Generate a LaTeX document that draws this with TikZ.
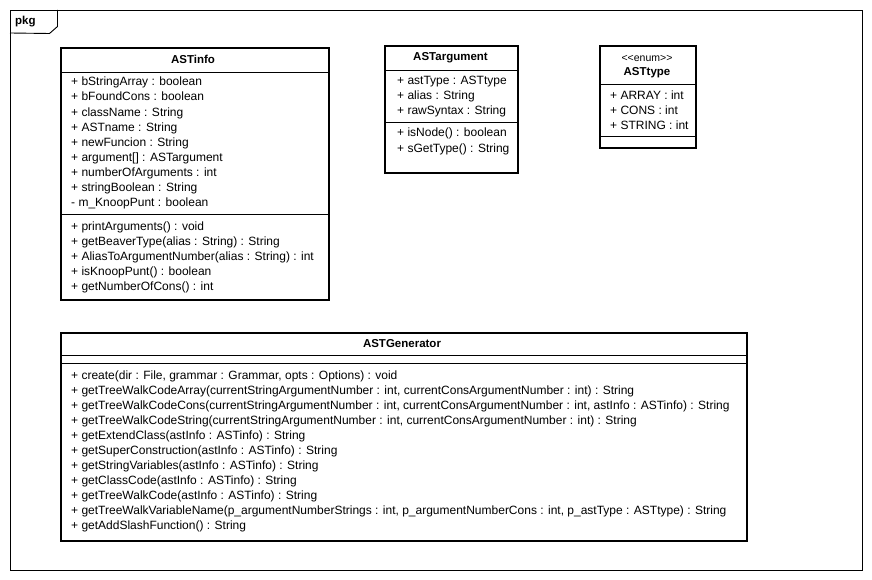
\documentclass[tikz,border=0pt]{standalone}
\usepackage{fontspec}
\setmainfont{Liberation Sans}
\begin{document}
\begin{tikzpicture}[x=1pt,y=-1pt,
  box/.style={draw,line width=2pt,anchor=north west,inner sep=0pt},
  sep/.style={line width=0.9pt},
  txt/.style={anchor=west,inner sep=0pt,font=\fontsize{12}{14}\selectfont,text height=8.5pt,text depth=2.5pt},
  ttl/.style={anchor=center,inner sep=0pt,font=\fontsize{11.5}{13}\selectfont\bfseries},
  ster/.style={anchor=center,inner sep=0pt,font=\fontsize{10.5}{12}\selectfont}]
\useasboundingbox (0,0) rectangle (872,580);
\fill[white] (0,0) rectangle (872,580);
% package frame
\node[draw,line width=0.9pt,anchor=north west,inner sep=0pt,minimum width=852pt,minimum height=560pt] (frame) at (10,10) {};
\draw[line width=0.9pt] (frame.north west) ++(47.5,0) -- ++(0,16.5) -- ++(-8,7) -- (frame.west |- 0,33);
\node[anchor=west,inner sep=0pt,font=\fontsize{11.5}{13}\selectfont\bfseries] (pkg) at (15,22) {pkg};

% ASTinfo
\node[box,minimum width=268pt,minimum height=252pt] (info) at (60,47) {};
\draw[sep] (info.west |- 0,72) -- (info.east |- 0,72);
\draw[sep] (info.west |- 0,214) -- (info.east |- 0,214);
\node[ttl] (infoT) at (193,59.5) {ASTinfo};
\node[txt] (i1) at (71,83) {+ bStringArray : boolean};
\node[txt] (i2) at (71,98) {+ bFoundCons : boolean};
\node[txt] (i3) at (71,113.2) {+ className : String};
\node[txt] (i4) at (71,128.4) {+ ASTname : String};
\node[txt] (i5) at (71,143.6) {+ newFuncion : String};
\node[txt] (i6) at (71,158.8) {+ argument[] : ASTargument};
\node[txt] (i7) at (71,174) {+ numberOfArguments : int};
\node[txt] (i8) at (71,189) {+ stringBoolean : String};
\node[txt] (i9) at (71,204) {- m\_KnoopPunt : boolean};
\node[txt] (m1) at (71,227) {+ printArguments() : void};
\node[txt] (m2) at (71,242) {+ getBeaverType(alias : String) : String};
\node[txt] (m3) at (71,257) {+ AliasToArgumentNumber(alias : String) : int};
\node[txt] (m4) at (71,272) {+ isKnoopPunt() : boolean};
\node[txt] (m5) at (71,287) {+ getNumberOfCons() : int};

% ASTargument
\node[box,minimum width=133pt,minimum height=127pt] (arg) at (384,45) {};
\draw[sep] (arg.west |- 0,70) -- (arg.east |- 0,70);
\draw[sep] (arg.west |- 0,122.5) -- (arg.east |- 0,122.5);
\node[ttl] (argT) at (450.5,58) {ASTargument};
\node[txt] (a1) at (397,82) {+ astType : ASTtype};
\node[txt] (a2) at (397,97) {+ alias : String};
\node[txt] (a3) at (397,112) {+ rawSyntax : String};
\node[txt] (a4) at (397,134) {+ isNode() : boolean};
\node[txt] (a5) at (397,150) {+ sGetType() : String};

% ASTtype
\node[box,minimum width=96pt,minimum height=102pt] (typ) at (599,45) {};
\draw[sep] (typ.west |- 0,84) -- (typ.east |- 0,84);
\draw[sep] (typ.west |- 0,136.7) -- (typ.east |- 0,136.7);
\node[ster] (typS) at (647,58.5) {{<}{<}enum{>}{>}};
\node[ttl] (typT) at (647,73) {ASTtype};
\node[txt] (t1) at (610,96.7) {+ ARRAY : int};
\node[txt] (t2) at (610,111.7) {+ CONS : int};
\node[txt] (t3) at (610,127) {+ STRING : int};

% ASTGenerator
\node[box,minimum width=686pt,minimum height=208pt] (gen) at (60,332) {};
\draw[sep] (gen.west |- 0,355.3) -- (gen.east |- 0,355.3);
\draw[sep] (gen.west |- 0,363) -- (gen.east |- 0,363);
\node[ttl] (genT) at (402,344) {ASTGenerator};
\node[txt] (g1) at (71,376.7) {+ create(dir : File, grammar : Grammar, opts : Options) : void};
\node[txt] (g2) at (71,391.7) {+ getTreeWalkCodeArray(currentStringArgumentNumber : int, currentConsArgumentNumber : int) : String};
\node[txt] (g3) at (71,406.7) {+ getTreeWalkCodeCons(currentStringArgumentNumber : int, currentConsArgumentNumber : int, astInfo : ASTinfo) : String};
\node[txt] (g4) at (71,421.7) {+ getTreeWalkCodeString(currentStringArgumentNumber : int, currentConsArgumentNumber : int) : String};
\node[txt] (g5) at (71,436.7) {+ getExtendClass(astInfo : ASTinfo) : String};
\node[txt] (g6) at (71,451.7) {+ getSuperConstruction(astInfo : ASTinfo) : String};
\node[txt] (g7) at (71,466.7) {+ getStringVariables(astInfo : ASTinfo) : String};
\node[txt] (g8) at (71,481.7) {+ getClassCode(astInfo : ASTinfo) : String};
\node[txt] (g9) at (71,496.7) {+ getTreeWalkCode(astInfo : ASTinfo) : String};
\node[txt] (g10) at (71,511.7) {+ getTreeWalkVariableName(p\_argumentNumberStrings : int, p\_argumentNumberCons : int, p\_astType : ASTtype) : String};
\node[txt] (g11) at (71,526.7) {+ getAddSlashFunction() : String};
\end{tikzpicture}
\end{document}
